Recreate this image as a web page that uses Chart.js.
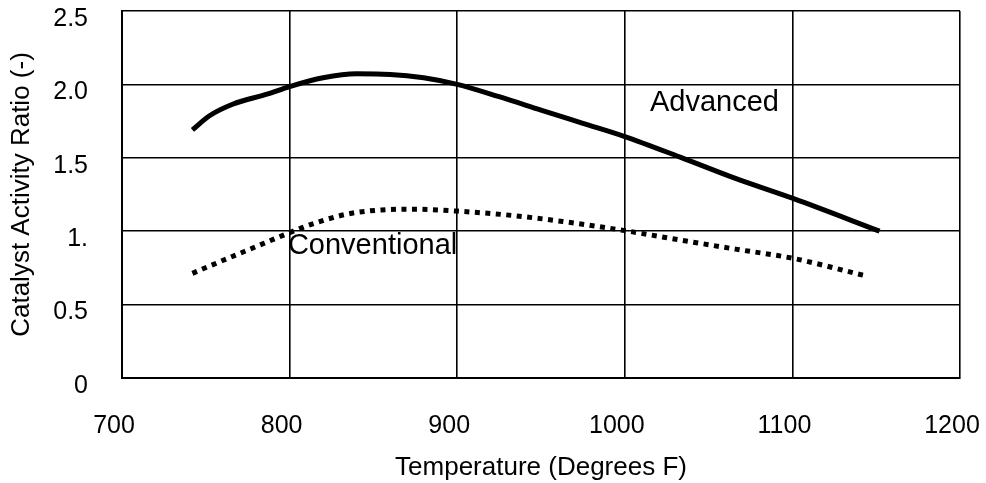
<!DOCTYPE html>
<html>
<head>
<meta charset="utf-8">
<script src="https://cdn.jsdelivr.net/npm/chart.js@4.4.1/dist/chart.umd.min.js"></script>
<style>
  html, body { margin: 0; padding: 0; background: #fff; }
  #wrap { width: 986px; height: 483px; }
</style>
</head>
<body>
<div id="wrap"><canvas id="chart" width="986" height="483"></canvas></div>
<script>
// Data
const advTemps = [742, 752, 766, 787, 800, 820, 840, 860, 880, 900, 925, 950, 975, 1000, 1033, 1066, 1100, 1152];
const advRatio = [1.69, 1.785, 1.865, 1.935, 1.985, 2.045, 2.072, 2.068, 2.045, 2.0, 1.916, 1.825, 1.735, 1.645, 1.505, 1.36, 1.225, 1.0];

const convTemps = [742, 760, 780, 800, 815, 835, 855, 875, 900, 933, 963, 1000, 1033, 1066, 1100, 1144];
const convRatio = [0.713, 0.8, 0.895, 0.99, 1.055, 1.118, 1.145, 1.15, 1.137, 1.107, 1.066, 1.004, 0.94, 0.878, 0.816, 0.695];

const yTickLabels = ["0", "0.5", "1.", "1.5", "2.0", "2.5"];
const curveNames = ["Advanced", "Conventional"];

const FONT = "'Liberation Sans', Arial, Helvetica, sans-serif";

const toPoints = (xs, ys) => xs.map((x, i) => ({ x: x, y: ys[i] }));

// Curve name labels placed in data coordinates
const curveLabels = {
  id: "curveLabels",
  afterDatasetsDraw(chart, args, opts) {
    const { ctx, scales } = chart;
    ctx.save();
    ctx.fillStyle = "#000";
    ctx.font = "29px " + FONT;
    ctx.textAlign = "left";
    ctx.textBaseline = "middle";
    opts.items.forEach(it => {
      ctx.fillText(it.text, scales.x.getPixelForValue(it.x), scales.y.getPixelForValue(it.y));
    });
    ctx.restore();
  }
};

const ctx = document.getElementById("chart");
new Chart(ctx, {
  type: "line",
  data: {
    datasets: [
      {
        label: curveNames[0],
        data: toPoints(advTemps, advRatio),
        borderColor: "#000",
        borderWidth: 5,
        pointRadius: 0,
        cubicInterpolationMode: "monotone",
        borderCapStyle: "butt",
        fill: false,
      },
      {
        label: curveNames[1],
        data: toPoints(convTemps, convRatio),
        borderColor: "#000",
        borderWidth: 5,
        borderDash: [5, 5.5],
        pointRadius: 0,
        cubicInterpolationMode: "monotone",
        borderCapStyle: "butt",
        fill: false,
      },
    ],
  },
  options: {
    responsive: false,
    animation: false,
    layout: { padding: { top: 11, right: 26, left: 0, bottom: 0 } },
    plugins: {
      legend: { display: false },
      tooltip: { enabled: false },
      curveLabels: {
        items: [
          { text: curveNames[0], x: 1015, y: 1.876 },
          { text: curveNames[1], x: 799, y: 0.896 },
        ],
      },
    },
    scales: {
      x: {
        type: "linear",
        min: 700,
        max: 1200,
        ticks: {
          stepSize: 100,
          color: "#000",
          font: { family: FONT, size: 25 },
          padding: 33,
          labelOffset: -8,
          maxRotation: 0,
          callback: v => String(v),
        },
        grid: { color: "#000", lineWidth: 1.6, drawTicks: false },
        border: { color: "#000", width: 2 },
        title: {
          display: true,
          text: "Temperature (Degrees F)",
          color: "#000",
          font: { family: FONT, size: 26 },
          padding: { top: 0, bottom: 0 },
        },
        afterFit(scale) {
          scale.height = 105;
          scale.paddingLeft = 0;
          scale.paddingRight = 0;
        },
      },
      y: {
        min: 0,
        max: 2.5,
        ticks: {
          stepSize: 0.5,
          color: "#000",
          font: { family: FONT, size: 25 },
          padding: 34,
          labelOffset: 8,
          callback: (v, i) => yTickLabels[i],
        },
        grid: { color: "#000", lineWidth: 1.6, drawTicks: false },
        border: { color: "#000", width: 2 },
        title: {
          display: true,
          text: "Catalyst Activity Ratio (-)",
          color: "#000",
          font: { family: FONT, size: 26 },
          padding: { top: 6, bottom: 0 },
        },
        afterFit(scale) {
          scale.width = 122;
          scale.paddingTop = 0;
          scale.paddingBottom = 0;
        },
      },
    },
  },
  plugins: [curveLabels],
});
</script>
</body>
</html>
